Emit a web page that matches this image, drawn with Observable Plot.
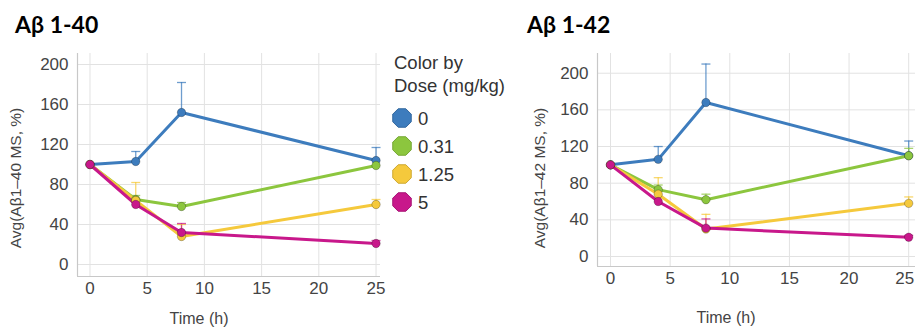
<!DOCTYPE html>
<html>
<head>
<meta charset="utf-8">
<script src="https://cdn.jsdelivr.net/npm/d3@7"></script>
<script src="https://cdn.jsdelivr.net/npm/@observablehq/plot@0.6"></script>
<style>
  html, body { margin: 0; padding: 0; background: #fff; }
  #wrap { position: relative; width: 915px; height: 327px; overflow: hidden; background: #fff; }
  .panel { position: absolute; top: 0; height: 327px; }
  .panel svg { overflow: visible; }
  #overlay { position: absolute; left: 0; top: 0; pointer-events: none; }
</style>
</head>
<body>
<div id="wrap">
  <div class="panel" id="p40" style="left:0;width:380px"></div>
  <div class="panel" id="p42" style="left:520px;width:395px"></div>
  <svg id="overlay" width="915" height="327"></svg>
</div>
<script>
// ---- data ----
const times = [0, 4, 8, 25];
const doses = ["0", "0.31", "1.25", "5"];
const colors = ["#3d7cbd", "#8cc63e", "#f5c93c", "#c8188b"];
const xTicks = [0, 5, 10, 15, 20, 25];
const yTicks = [0, 40, 80, 120, 160, 200];

const titles = ["Aβ 1-40", "Aβ 1-42"];
const yLabels = ["Avg(Aβ1–40 MS, %)", "Avg(Aβ1–42 MS, %)"];
const xLabel = "Time (h)";
const legendTitle = ["Color by", "Dose (mg/kg)"];

// Aβ 1-40 mean values per dose
const ab40_d0   = [100, 103, 152, 104];
const ab40_d031 = [100, 65, 58, 99];
const ab40_d125 = [100, 64, 28, 60];
const ab40_d5   = [100, 60, 32, 21];
// Aβ 1-40 upper error-bar ends (null = none visible)
const ab40_d0_hi   = [null, 113, 182, 117];
const ab40_d031_hi = [null, 69, 62, null];
const ab40_d125_hi = [null, 82, 40, 65];
const ab40_d5_hi   = [null, null, 41, 24];

// Aβ 1-42 mean values per dose
const ab42_d0   = [100, 106, 168, 110];
const ab42_d031 = [100, 73, 62, 110];
const ab42_d125 = [100, 68, 30, 58];
const ab42_d5   = [100, 60, 31, 21];
// Aβ 1-42 upper error-bar ends
const ab42_d0_hi   = [null, 120, 210, 126];
const ab42_d031_hi = [null, 78, 68, 118];
const ab42_d125_hi = [null, 86, 46, 65];
const ab42_d5_hi   = [null, null, 41, 23];

function rowsFrom(vals, his) {
  const rows = [];
  doses.forEach((d, i) => {
    times.forEach((t, j) => rows.push({t, dose: d, v: vals[i][j], hi: his[i][j]}));
  });
  return rows;
}
const rows40 = rowsFrom([ab40_d0, ab40_d031, ab40_d125, ab40_d5], [ab40_d0_hi, ab40_d031_hi, ab40_d125_hi, ab40_d5_hi]);
const rows42 = rowsFrom([ab42_d0, ab42_d031, ab42_d125, ab42_d5], [ab42_d0_hi, ab42_d031_hi, ab42_d125_hi, ab42_d5_hi]);

const capSymbol = {
  draw(ctx, size) {
    const w = Math.sqrt(size / Math.PI);
    ctx.moveTo(-w, 0); ctx.lineTo(w, 0);
  }
};

function chart({rows, width, xDomain, yDomain, marginBottom, lastDx}) {
  const err = rows.filter(d => d.hi != null);
  const lastTick = xTicks[xTicks.length - 1];
  return Plot.plot({
    width, height: 327,
    marginLeft: 77, marginRight: 0, marginTop: 53, marginBottom,
    x: {domain: xDomain},
    y: {domain: yDomain},
    color: {domain: doses, range: colors},
    style: {fontFamily: "'Liberation Sans', Arial, sans-serif", fontSize: "17px", color: "#444", background: "transparent"},
    marks: [
      Plot.gridX({ticks: xTicks, stroke: "#e2e2e2", strokeOpacity: 1}),
      Plot.gridY({ticks: yTicks, stroke: "#e2e2e2", strokeOpacity: 1}),
      Plot.ruleX([xDomain[0]], {stroke: "#c8c8c8", strokeWidth: 1.2}),
      Plot.ruleY([yDomain[0]], {stroke: "#c8c8c8", strokeWidth: 1.2}),
      Plot.axisX({ticks: xTicks.slice(0, -1), tickSize: 0, tickPadding: 5, label: null}),
      Plot.axisX({ticks: [lastTick], tickSize: 0, tickPadding: 5, label: null, dx: lastDx}),
      Plot.axisY({ticks: yTicks, tickSize: 0, tickPadding: 9, label: null}),
      Plot.ruleX(err, {x: "t", y1: "v", y2: "hi", stroke: "dose", strokeWidth: 1.3, strokeOpacity: 0.75}),
      Plot.dot(err, {x: "t", y: "hi", symbol: capSymbol, r: 4.5, fill: "none", stroke: "dose", strokeWidth: 1.3, strokeOpacity: 0.75}),
      Plot.line(rows, {x: "t", y: "v", z: "dose", stroke: "dose", strokeWidth: 3}),
      Plot.dot(rows, {x: "t", y: "v", fill: "dose", r: 4.2, stroke: "#000", strokeOpacity: 0.25, strokeWidth: 1})
    ]
  });
}

document.getElementById("p40").append(chart({
  rows: rows40, width: 380, xDomain: [-1.09, 25.39], yDomain: [-12, 211], marginBottom: 51, lastDx: 0
}));
document.getElementById("p42").append(chart({
  rows: rows42, width: 395, xDomain: [-1.09, 25.57], yDomain: [-10.9, 221.5], marginBottom: 61, lastDx: -4
}));

// ---- text overlay & legend ----
const ov = d3.select("#overlay");
const sans = "'Liberation Sans', Arial, sans-serif";
[[15, titles[0]], [527, titles[1]]].forEach(([x, t]) => {
  ov.append("text").attr("x", x).attr("y", 33).attr("font-family", "Lato, 'Open Sans', sans-serif")
    .attr("font-weight", 700).attr("font-size", 23).attr("fill", "#000").text(t);
});
[[16, yLabels[0]], [540, yLabels[1]]].forEach(([x, t]) => {
  ov.append("text").attr("transform", `translate(${x},178) rotate(-90)`).attr("text-anchor", "middle")
    .attr("dy", "0.35em").attr("font-family", sans).attr("font-size", 15.5).attr("fill", "#444").text(t);
});
[[199, 323.5], [726, 322.5]].forEach(([x, y]) => {
  ov.append("text").attr("x", x).attr("y", y).attr("text-anchor", "middle")
    .attr("font-family", sans).attr("font-size", 16).attr("fill", "#444").text(xLabel);
});
legendTitle.forEach((t, i) => {
  ov.append("text").attr("x", 394).attr("y", 68.5 + i * 23).attr("font-family", sans)
    .attr("font-size", 18.5).attr("fill", "#333").text(t);
});
const oct = d3.range(8).map(k => {
  const a = Math.PI / 8 + k * Math.PI / 4;
  return [10 * Math.cos(a), 10 * Math.sin(a)];
});
doses.forEach((d, i) => {
  const cy = 118 + i * 28;
  ov.append("polygon").attr("points", oct.map(p => p.join(",")).join(" "))
    .attr("transform", `translate(402,${cy})`).attr("fill", colors[i])
    .attr("stroke", d3.color(colors[i]).darker(0.5)).attr("stroke-width", 1);
  ov.append("text").attr("x", 418).attr("y", cy).attr("dy", "0.36em").attr("font-family", sans)
    .attr("font-size", 18.5).attr("fill", "#333").text(d);
});
</script>
</body>
</html>
